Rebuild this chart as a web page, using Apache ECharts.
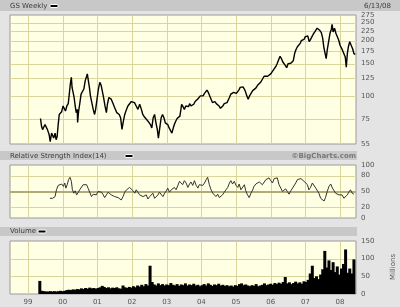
<!DOCTYPE html>
<html><head><meta charset="utf-8">
<script src="https://cdn.jsdelivr.net/npm/echarts@6/dist/echarts.min.js"></script>
<style>html,body{margin:0;padding:0;background:#e4e4e4}#c{width:400px;height:307px}</style>
</head><body><div id="c"></div>
<script>
const yearTicks = [1999,2000,2001,2002,2003,2004,2005,2006,2007,2008];
const yearLabels = ['99','00','01','02','03','04','05','06','07','08'];
const priceTicks = [55,75,100,125,150,175,200,225,250,275];
const rsiTicks = [0,20,50,80,100];
const volTicks = [0,50,100,150];

const priceDates = [1999.36,1999.39,1999.42,1999.46,1999.49,1999.53,1999.56,1999.58,1999.61,1999.64,1999.68,1999.71,1999.74,1999.78,1999.81,1999.84,1999.87,1999.90,1999.94,1999.97,
2000.01,2000.04,2000.08,2000.12,2000.16,2000.19,2000.22,2000.25,2000.27,2000.30,2000.33,2000.36,2000.39,2000.42,2000.43,2000.46,2000.49,2000.53,2000.57,2000.61,2000.65,2000.69,2000.71,2000.74,2000.77,2000.80,2000.84,2000.88,2000.92,2000.95,2000.99,
2001.03,2001.07,2001.11,2001.15,2001.18,2001.22,2001.26,2001.29,2001.33,2001.37,2001.40,2001.44,2001.48,2001.52,2001.56,2001.60,2001.63,2001.67,2001.71,2001.75,2001.79,2001.84,2001.88,2001.93,2001.98,
2002.03,2002.07,2002.12,2002.17,2002.22,2002.27,2002.31,2002.36,2002.41,2002.46,2002.50,2002.53,2002.57,2002.61,2002.65,2002.69,2002.73,2002.76,2002.80,2002.84,2002.88,2002.92,2002.96,
2003.00,2003.03,2003.07,2003.11,2003.15,2003.19,2003.22,2003.26,2003.30,2003.34,2003.38,2003.41,2003.43,2003.47,2003.51,2003.55,2003.59,2003.63,2003.66,2003.70,2003.74,2003.78,2003.82,2003.86,2003.89,2003.93,2003.97,
2004.01,2004.05,2004.09,2004.12,2004.16,2004.20,2004.24,2004.28,2004.32,2004.35,2004.39,2004.43,2004.47,2004.51,2004.55,2004.58,2004.62,2004.66,2004.70,2004.74,2004.78,2004.81,2004.85,2004.89,2004.93,2004.97,
2005.01,2005.04,2005.08,2005.12,2005.16,2005.20,2005.24,2005.27,2005.31,2005.35,2005.39,2005.43,2005.48,2005.52,2005.57,2005.62,2005.67,2005.71,2005.76,2005.81,2005.86,2005.91,2005.95,
2006.00,2006.05,2006.10,2006.15,2006.19,2006.24,2006.27,2006.31,2006.35,2006.39,2006.42,2006.46,2006.50,2006.54,2006.58,2006.62,2006.65,2006.69,2006.73,2006.77,2006.81,2006.85,2006.88,2006.92,2006.96,
2007.00,2007.04,2007.07,2007.11,2007.15,2007.19,2007.23,2007.27,2007.30,2007.34,2007.38,2007.42,2007.46,2007.50,2007.53,2007.57,2007.60,2007.63,2007.67,2007.71,2007.75,2007.77,2007.80,2007.84,2007.88,2007.92,2007.96,
2008.00,2008.03,2008.07,2008.11,2008.15,2008.18,2008.21,2008.24,2008.28,2008.32,2008.36,2008.40,2008.44];
const prices = [75.6,68.6,65.8,67.2,70.1,71.6,65.8,64.4,61.7,56.7,63.0,61.7,59.2,63.0,58.0,60.4,70.1,79.5,80.3,82.3,
88.4,86.5,83.0,88.4,91.0,102.5,116.3,126.5,111.4,104.7,98.2,88.4,81.3,84.7,72.0,83.0,90.3,102.5,104.7,109.2,121.3,128.1,131.9,121.3,111.4,100.3,92.2,84.7,79.5,84.7,96.2,
109.2,118.8,114.3,104.7,98.2,88.4,81.3,90.3,98.2,100.3,96.2,92.2,90.3,84.7,81.3,83.0,79.5,76.3,66.0,73.1,79.5,84.7,88.4,90.3,93.4,
95.0,92.2,88.4,84.7,90.3,84.7,79.5,77.0,76.3,73.1,74.7,70.1,67.2,76.3,79.5,71.6,65.8,59.2,67.2,76.3,79.5,76.3,71.6,
73.1,70.1,67.2,65.8,63.0,67.2,70.1,73.1,75.6,75.6,77.9,84.7,90.3,87.6,84.7,88.4,90.3,87.6,91.0,88.4,86.5,90.3,93.4,95.0,96.2,98.2,100.3,
98.2,100.3,103.4,106.0,107.8,104.7,102.5,96.2,92.2,91.0,93.4,91.0,89.5,88.4,85.8,83.7,88.4,91.0,91.0,92.2,93.4,98.2,102.5,103.8,104.7,102.5,
103.4,106.0,107.8,111.4,110.5,112.2,109.2,106.0,100.3,96.2,100.3,102.5,107.1,109.0,110.5,114.3,116.3,118.8,121.3,128.1,129.7,128.1,126.5,
131.9,133.9,140.6,144.8,150.7,159.5,164.3,159.5,153.0,149.8,146.6,142.4,149.8,146.6,150.7,148.4,155.3,170.0,178.8,185.0,188.5,192.9,199.5,201.2,202.9,
209.9,213.9,211.6,197.1,202.9,209.9,217.0,222.6,226.4,233.3,230.3,226.4,220.8,205.5,185.0,170.0,159.5,177.3,197.1,218.9,230.3,244.4,222.6,233.3,218.9,213.9,201.2,
188.5,192.9,177.3,181.1,162.9,143.6,170.0,185.0,197.1,188.5,181.1,170.0,168.0];

const rsiDates = [1999.63,1999.71,1999.78,1999.82,1999.87,1999.92,1999.97,2000.02,2000.06,2000.09,2000.13,2000.17,2000.21,2000.25,2000.28,2000.32,2000.36,2000.40,2000.45,2000.49,2000.54,2000.59,2000.64,2000.69,2000.73,2000.78,2000.83,2000.88,2000.93,2000.97,
2001.02,2001.07,2001.12,2001.17,2001.21,2001.26,2001.31,2001.36,2001.40,2001.45,2001.50,2001.55,2001.60,2001.64,2001.69,2001.74,2001.79,2001.84,2001.88,2001.93,2001.98,
2002.03,2002.08,2002.12,2002.17,2002.22,2002.27,2002.32,2002.36,2002.41,2002.46,2002.51,2002.55,2002.60,2002.65,2002.70,2002.75,2002.79,2002.84,2002.89,2002.94,2002.99,
2003.03,2003.08,2003.13,2003.18,2003.22,2003.27,2003.32,2003.37,2003.42,2003.46,2003.51,2003.56,2003.61,2003.66,2003.70,2003.75,2003.80,2003.85,2003.90,2003.94,2003.99,
2004.04,2004.09,2004.14,2004.18,2004.23,2004.28,2004.33,2004.37,2004.42,2004.47,2004.52,2004.57,2004.61,2004.66,2004.71,2004.76,2004.81,2004.85,2004.90,2004.95,
2005.00,2005.05,2005.09,2005.14,2005.19,2005.24,2005.28,2005.33,2005.38,2005.43,2005.48,2005.52,2005.57,2005.62,2005.67,2005.72,2005.76,2005.81,2005.86,2005.91,2005.95,
2006.00,2006.05,2006.10,2006.15,2006.19,2006.24,2006.29,2006.34,2006.39,2006.43,2006.48,2006.53,2006.58,2006.63,2006.67,2006.72,2006.77,2006.82,2006.87,2006.91,2006.96,
2007.01,2007.06,2007.10,2007.15,2007.20,2007.25,2007.30,2007.34,2007.39,2007.44,2007.49,2007.54,2007.58,2007.63,2007.68,2007.73,2007.78,2007.82,2007.87,2007.92,2007.97,
2008.02,2008.06,2008.11,2008.16,2008.21,2008.25,2008.30,2008.35,2008.40];
const rsiValues = [37.2,37.2,40.4,53.2,61.5,59.6,64.1,59.6,66.0,56.4,62.8,72.4,76.9,69.2,53.2,46.8,51.3,43.6,48.7,53.2,56.4,62.8,66.0,62.8,56.4,48.7,40.4,44.9,46.8,43.6,
50.0,53.2,48.7,43.6,38.5,43.6,48.7,46.8,43.6,44.9,40.4,42.3,38.5,37.2,34.0,40.4,48.7,53.2,56.4,57.7,59.6,
51.3,46.8,53.2,50.0,43.6,46.8,40.4,38.5,43.6,35.9,40.4,43.6,46.8,37.2,35.9,43.6,48.7,46.8,40.4,46.8,51.3,
56.4,48.7,53.2,56.4,57.7,53.2,56.4,69.2,68.0,62.8,70.5,66.0,57.7,64.1,68.0,61.5,70.5,61.5,56.4,62.8,64.1,
61.5,66.0,72.4,76.9,62.8,53.2,46.8,43.6,40.4,44.9,38.5,40.4,43.6,48.7,53.2,57.7,66.0,70.5,64.1,69.2,
61.5,57.7,64.1,53.2,50.0,62.8,51.3,43.6,38.5,46.8,53.2,59.6,64.1,61.5,68.0,70.5,62.8,66.0,72.4,69.2,75.7,
70.5,66.0,74.4,76.9,75.7,62.8,56.4,50.0,46.8,55.1,50.0,44.9,51.3,56.4,59.6,66.0,72.4,75.7,74.4,72.4,69.2,
72.4,62.8,53.2,57.7,66.0,62.8,56.4,53.2,46.8,37.2,34.0,32.1,38.5,50.0,59.6,64.1,56.4,53.2,46.8,48.7,43.6,
40.4,43.6,37.2,34.0,43.6,48.7,53.2,46.8,44.9];

const volDates = [1999.34,1999.40,1999.46,1999.52,1999.58,1999.64,1999.70,1999.76,1999.82,1999.88,1999.94,
2000.00,2000.06,2000.12,2000.18,2000.24,2000.30,2000.36,2000.42,2000.48,2000.54,2000.60,2000.66,2000.72,2000.78,2000.84,2000.90,2000.96,
2001.02,2001.08,2001.14,2001.20,2001.26,2001.32,2001.38,2001.44,2001.50,2001.56,2001.62,2001.68,2001.74,2001.80,2001.86,2001.92,2001.98,
2002.04,2002.10,2002.16,2002.22,2002.28,2002.34,2002.40,2002.46,2002.52,2002.58,2002.64,2002.70,2002.76,2002.82,2002.88,2002.94,
2003.00,2003.06,2003.12,2003.18,2003.24,2003.30,2003.36,2003.42,2003.48,2003.54,2003.60,2003.66,2003.72,2003.78,2003.84,2003.90,2003.96,
2004.02,2004.08,2004.14,2004.20,2004.26,2004.32,2004.38,2004.44,2004.50,2004.56,2004.62,2004.68,2004.74,2004.80,2004.86,2004.92,2004.98,
2005.04,2005.10,2005.16,2005.22,2005.28,2005.34,2005.40,2005.46,2005.52,2005.58,2005.64,2005.70,2005.76,2005.82,2005.88,2005.94,
2006.00,2006.06,2006.12,2006.18,2006.24,2006.30,2006.36,2006.42,2006.48,2006.54,2006.60,2006.66,2006.72,2006.78,2006.84,2006.90,2006.96,
2007.02,2007.08,2007.14,2007.20,2007.26,2007.32,2007.38,2007.44,2007.50,2007.56,2007.62,2007.68,2007.74,2007.80,2007.86,2007.92,2007.98,
2008.04,2008.10,2008.16,2008.22,2008.28,2008.34,2008.40];
const volumes = [37,9,8,7,7,8,7,8,7,8,9,
8,9,11,12,11,13,12,14,13,16,14,17,15,18,16,17,15,
17,19,23,20,17,19,16,18,17,19,16,15,24,19,17,20,18,
22,19,24,21,26,22,28,24,80,34,27,24,30,25,28,24,
27,25,31,26,24,28,23,27,25,30,24,27,25,29,24,26,22,
25,28,24,30,26,23,27,25,29,24,26,23,25,22,24,21,25,
23,28,30,25,27,24,22,25,23,28,22,24,26,30,25,27,
29,26,31,28,32,29,34,48,30,33,28,31,35,30,33,29,36,
34,40,58,80,45,50,42,55,70,122,75,95,68,90,62,78,55,
72,85,126,60,72,58,98];

const FONT = '"DejaVu Sans"';
const TXT = '#555';
const PLOT_BG = '#ffffe3';
const GRID_C = '#d9d59b';
const MID_C = '#b0ac78';
const xMin = 1998.48, xMax = 2008.46;

function makeX(i, showLabel) {
  return {
    type: 'value', gridIndex: i, min: xMin, max: xMax,
    axisLine: {show: false},
    axisTick: {show: false, customValues: yearTicks},
    axisLabel: {show: showLabel, customValues: yearTicks, color: TXT, fontSize: 7, fontFamily: FONT, margin: 5,
      formatter: v => yearLabels[yearTicks.indexOf(Math.round(v))]},
    splitLine: {show: false}
  };
}
const ylab = {color: TXT, fontSize: 7, fontFamily: FONT, margin: 5};
const framed = {show: true, backgroundColor: PLOT_BG, borderColor: '#9a9a9a', borderWidth: 1};
const grids = [
  {left: 10, top: 15, width: 346, height: 129, show: false},             // 0: price (log scale)
  Object.assign({left: 10, top: 165, width: 346, height: 53}, framed),   // 1: RSI
  Object.assign({left: 10, top: 241, width: 346, height: 53}, framed),   // 2: volume
  Object.assign({left: 10, top: 15, width: 346, height: 129}, framed)    // 3: price frame + gridlines (log10 space)
];

// gridlines: custom series through a panel's axes
// item = [x, y, kind]  kind 0 = horizontal at y, 1 = vertical at x, 2 = emphasised horizontal
function gridSeries(xi, yi, yTicks, yInner, yMid) {
  const lo = yTicks[0], hi = yTicks[yTicks.length - 1];
  const data = yearTicks.map(v => [v, lo, 1])
    .concat(yInner.map(v => [xMin, v, 0]))
    .concat((yMid || []).map(v => [xMin, v, 2]));
  return {type: 'custom', xAxisIndex: xi, yAxisIndex: yi, data, z: 1, silent: true, clip: false,
    encode: {x: 0, y: 1},
    renderItem: function (params, api) {
      const kind = api.value(2);
      let a, b;
      if (kind === 1) { a = api.coord([api.value(0), lo]); b = api.coord([api.value(0), hi]); const x = Math.round(a[0]) + 0.5; a[0] = b[0] = x; }
      else { a = api.coord([xMin, api.value(1)]); b = api.coord([xMax, api.value(1)]); const y = Math.round(a[1]) + (kind === 2 ? 0 : 0.5); a[1] = b[1] = y; }
      return {type: 'line', shape: {x1: a[0], y1: a[1], x2: b[0], y2: b[1]},
        style: {stroke: kind === 2 ? MID_C : GRID_C, lineWidth: kind === 2 ? 2 : 1}};
    }};
}
const logTicks = priceTicks.map(v => Math.log10(v));

const chart = echarts.init(document.getElementById('c'), null, {renderer: 'canvas'});
const bar = (x, y, w, h) => ({type: 'rect', shape: {x, y, width: w, height: h}, style: {fill: '#c8c8c8'}, silent: true, z: 5});
const txt = (t, x, y, opt) => ({type: 'text', x, y, z: 6, style: Object.assign({text: t, fill: '#3c3c3c', font: '7px ' + FONT, verticalAlign: 'middle', textVerticalAlign: 'middle'}, opt || {}), silent: true});
const dash = (x, y) => ({type: 'rect', shape: {x, y, width: 8, height: 3, r: 1}, style: {fill: '#000', stroke: '#fff', lineWidth: 1}, silent: true, z: 6});

chart.setOption({
  animation: false,
  backgroundColor: '#e4e4e4',
  grid: grids,
  xAxis: [makeX(0, false), makeX(1, false), makeX(2, true),
    {type: 'value', gridIndex: 3, min: xMin, max: xMax, show: false, splitLine: {show: false}}],
  yAxis: [
    {type: 'log', gridIndex: 0, position: 'right', min: 55, max: 275, logBase: 10,
     axisLine: {show: false}, axisTick: {show: false, customValues: priceTicks},
     axisLabel: Object.assign({customValues: priceTicks}, ylab),
     splitLine: {show: false}, splitArea: {show: false}},
    {type: 'value', gridIndex: 1, position: 'right', min: 0, max: 100,
     axisLine: {show: false}, axisTick: {show: false, customValues: rsiTicks},
     axisLabel: Object.assign({customValues: rsiTicks}, ylab),
     splitLine: {show: false}},
    {type: 'value', gridIndex: 2, position: 'right', min: 0, max: 150, interval: 50,
     axisLine: {show: false}, axisTick: {show: false},
     axisLabel: ylab,
     splitLine: {show: false}},
    {type: 'value', gridIndex: 3, min: logTicks[0], max: logTicks[logTicks.length - 1], show: false, splitLine: {show: false}}
  ],
  series: [
    gridSeries(3, 3, logTicks, logTicks.slice(1, -1)),
    gridSeries(1, 1, rsiTicks, [20, 80], [50]),
    gridSeries(2, 2, volTicks, [50, 100]),
    {type: 'line', xAxisIndex: 0, yAxisIndex: 0, data: priceDates.map((d, i) => [d, prices[i]]),
     symbol: 'none', lineStyle: {color: '#000', width: 1.4}, silent: true, z: 3},
    {type: 'line', xAxisIndex: 1, yAxisIndex: 1, data: rsiDates.map((d, i) => [d, rsiValues[i]]),
     symbol: 'none', lineStyle: {color: '#333', width: 1}, silent: true, z: 3},
    {type: 'bar', xAxisIndex: 2, yAxisIndex: 2, data: volDates.map((d, i) => [d, volumes[i]]),
     barWidth: 3, itemStyle: {color: '#000'}, silent: true, z: 3}
  ],
  graphic: [
    bar(0, 0, 400, 11),
    txt('GS Weekly', 10, 6), dash(50, 4.5),
    txt('6/13/08', 391, 6, {align: 'right', textAlign: 'right'}),
    bar(0, 151, 357, 9),
    txt('Relative Strength Index(14)', 10, 156), dash(125, 154.5),
    txt('\u00A9BigCharts.com', 356, 156, {align: 'right', textAlign: 'right', fill: '#777', font: 'bold 7px ' + FONT}),
    bar(0, 227, 357, 9),
    txt('Volume', 10, 231.5), dash(38, 230),
    {type: 'text', x: 393, y: 267, rotation: Math.PI / 2, z: 6,
     style: {text: 'Millions', fill: TXT, font: '7px ' + FONT, align: 'center', textAlign: 'center', verticalAlign: 'middle', textVerticalAlign: 'middle'}, silent: true}
  ]
});
</script></body></html>
